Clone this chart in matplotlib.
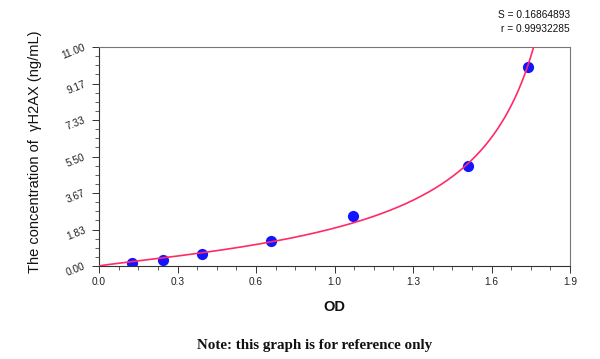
import numpy as np
import matplotlib
matplotlib.use("Agg")
import matplotlib.pyplot as plt
from matplotlib.ticker import FixedLocator, FixedFormatter

# Standards: OD readings and concentrations (ng/mL)
od = [0.134, 0.258, 0.415, 0.694, 1.026, 1.487, 1.729]
conc = [0.156, 0.3125, 0.625, 1.25, 2.5, 5.0, 10.0]

# 4PL fit parameters (OD = d + (a-d)/(1+(conc/c)^b))
fit_a, fit_b, fit_c, fit_d = 0.0, 1.176, 2.075, 2.0

x_ticks = [0.0, 1.9 / 6, 1.9 * 2 / 6, 1.9 * 3 / 6, 1.9 * 4 / 6, 1.9 * 5 / 6, 1.9]
x_labels = ["0.0", "0.3", "0.6", "1.0", "1.3", "1.6", "1.9"]
y_ticks = [0.0, 11 / 6, 11 * 2 / 6, 11 * 3 / 6, 11 * 4 / 6, 11 * 5 / 6, 11.0]
y_labels = ["0.00", "1.83", "3.67", "5.50", "7.33", "9.17", "11.00"]

stats = ["S = 0.16864893", "r = 0.99932285"]

plt.rcParams['font.family'] = ['Liberation Sans', 'DejaVu Sans']

fig = plt.figure(figsize=(6.0, 3.59), dpi=100)
ax = fig.add_axes([99 / 600, 93 / 359, 471 / 600, 219 / 359])

cgrid = np.linspace(0, 11.6, 800)
xcurve = fit_d + (fit_a - fit_d) / (1 + (cgrid / fit_c) ** fit_b)

ax.scatter(od, conc, s=65, color='#1414ff', zorder=2, linewidths=0)
ax.plot(xcurve, cgrid, color='#ff2a66', lw=1.2, zorder=3)

ax.set_xlim(0, 1.9)
ax.set_ylim(0, 11)

ax.xaxis.set_major_locator(FixedLocator(x_ticks))
ax.xaxis.set_major_formatter(FixedFormatter(x_labels))
ax.yaxis.set_major_locator(FixedLocator(y_ticks))
ax.yaxis.set_major_formatter(FixedFormatter(y_labels))
ax.xaxis.set_minor_locator(FixedLocator(np.linspace(0, 1.9, 25)))
ax.yaxis.set_minor_locator(FixedLocator(np.linspace(0, 11, 25)))

ax.tick_params(axis='both', which='major', direction='out', length=5, width=0.7,
               color='#333333', labelsize=7.3, labelcolor='#222222')
ax.tick_params(axis='both', which='minor', direction='out', length=3, width=0.6,
               color='#444444')
ax.tick_params(axis='x', which='major', pad=3)
ax.tick_params(axis='y', which='major', pad=5)
for lbl in ax.get_yticklabels():
    lbl.set_rotation(22)
    lbl.set_rotation_mode('anchor')
    lbl.set_ha('right')
    lbl.set_va('center')

for side in ['left', 'bottom']:
    ax.spines[side].set_color('#333333')
    ax.spines[side].set_linewidth(0.8)
for side in ['top', 'right']:
    ax.spines[side].set_color('#777777')
    ax.spines[side].set_linewidth(0.8)

ax.set_xlabel("OD", fontsize=10.5, fontweight='bold', labelpad=9, color='#111111')
fig.text(35 / 600, 1 - 152 / 359, "The concentration of  \u03b3H2AX (ng/mL)", rotation=90,
         ha='center', va='center', fontsize=10.5, color='#111111')

fig.text(570 / 600, 1 - 15 / 359, stats[0], ha='right', va='center', fontsize=7.3, color='#111111')
fig.text(570 / 600, 1 - 29 / 359, stats[1], ha='right', va='center', fontsize=7.3, color='#111111')

fig.text(315 / 600, 1 - 346 / 359, "Note: this graph is for reference only", ha='center',
         va='center', fontsize=10.8, fontweight='bold', family=['Liberation Serif', 'DejaVu Serif'],
         color='#111111')

fig.savefig("out.png", dpi=100, facecolor='white')
